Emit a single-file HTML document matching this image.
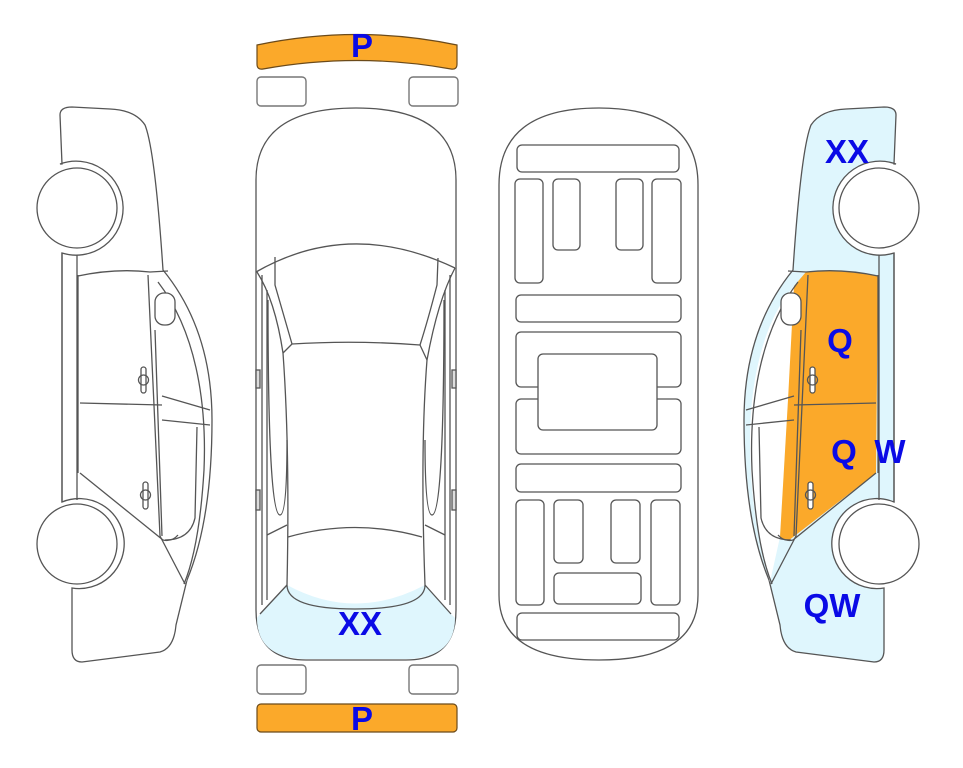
<!DOCTYPE html>
<html><head><style>
html,body{margin:0;padding:0;background:#fff;}
svg{display:block;}
.t{font-family:"Liberation Sans",sans-serif;font-weight:bold;font-size:33px;fill:#0a0ae6;text-anchor:middle;}
</style></head><body>
<svg width="963" height="768" viewBox="0 0 963 768" xmlns="http://www.w3.org/2000/svg">
<defs>
<g id="car" stroke="#555" stroke-width="1.3" fill="none">
  <path fill="var(--body,#fff)" d="M62,164 L60,115 Q60,107 72,107 L110,109 Q135,110 145,125 Q155,150 163,270 Q212,330 212,420 Q212,520 187,580 L176,625 Q174,648 160,652 L82,662 Q72,662 72,650 L72,588 A45,45 0 1 0 62,502 L62,253 A47,47 0 1 0 60,164 Z"/>
  <path fill="#fff" stroke="none" d="M160,284 C192,318 206,380 206,440 C206,500 197,545 186,582 L176,537 L168,400 Z"/>
  <path fill="var(--door,#fff)" stroke="none" d="M78,276 Q115,268 150,272 L162,286 L168,400 L176,537 L168,541 L80,473 Z"/>
  <path d="M62,253 L62,502 M77,255 L77,500"/>
  <path d="M78,275 L78,473 M78,276 Q115,268 150,272 L168,271 M80,403 L162,405 M80,473 L163,540 Q172,542 178,535"/>
  <path d="M148,275 L160,536 L185,584 M155,330 L162,536"/>
  <path d="M158,282 C195,330 207,400 204,470 C201,520 194,560 184,584"/>
  <path d="M162,396 L210,410 M162,420 L210,425"/>
  <path d="M197,427 L195,518 Q190,540 165,540"/>
  <rect x="155" y="293" width="20" height="32" rx="9" fill="#fff"/>
  <rect x="141" y="367" width="5" height="26" rx="2.5" fill="#fff"/>
  <circle cx="143.5" cy="380" r="5"/>
  <rect x="143" y="482" width="5" height="27" rx="2.5" fill="#fff"/>
  <circle cx="145.5" cy="495" r="5"/>
  <circle cx="77" cy="208" r="40" fill="#fff"/>
  <circle cx="77" cy="544" r="40" fill="#fff"/>
</g>
</defs>

<use href="#car"/>
<use href="#car" transform="translate(956,0) scale(-1,1)" style="--body:#dff6fd;--door:#fba92a"/>

<!-- top bumper -->
<path d="M257,45 Q357,24 457,45 L457,64 Q457,70 451,69 Q357,52 263,69 Q257,70 257,64 Z" fill="#fba92a" stroke="#6b4a1a" stroke-width="1.2"/>
<g fill="#fff" stroke="#777" stroke-width="1.4">
<rect x="257" y="77" width="49" height="29" rx="4"/>
<rect x="409" y="77" width="49" height="29" rx="4"/>
<rect x="257" y="665" width="49" height="29" rx="4"/>
<rect x="409" y="665" width="49" height="29" rx="4"/>
</g>
<rect x="257" y="704" width="200" height="28" rx="4" fill="#fba92a" stroke="#6b4a1a" stroke-width="1.2"/>

<!-- top view car -->
<g stroke="#555" stroke-width="1.3" fill="none">
<path fill="#fff" d="M256,180 Q256,108 356,108 Q456,108 456,180 L456,610 Q456,660 406,660 L306,660 Q256,660 256,610 Z"/>
<path fill="#dff6fd" stroke="none" d="M260,614 L287,585 Q355,622 425,585 L451,614 L455,618 Q455,658 406,659 L306,659 Q257,658 257,618 Z"/>
<path d="M260,614 L287,585 M451,614 L425,585"/>
<path d="M256,272 Q350,218 455,268"/>
<path d="M275,257 L275,285 Q285,320 292,344 M257,272 Q275,300 283,353"/>
<path d="M438,258 L437,285 Q428,320 420,345 M455,268 Q438,300 427,360"/>
<path d="M292,344 Q355,340 420,345 M292,344 L283,353 M420,345 L427,360"/>
<path d="M283,353 Q290,450 287,585 M427,360 Q420,450 425,585"/>
<path d="M288,537 Q355,518 422,537"/>
<path d="M287,585 Q287,609 355,609 Q425,609 425,585"/>
<path d="M262,275 L262,605 M267,290 L267,600 M450,275 L450,605 M445,290 L445,600"/>
<path d="M268,300 Q268,515 280,515 Q287,515 287,440 M444,300 Q444,515 432,515 Q425,515 425,440"/>
<path d="M267,535 L287,525 M445,535 L425,525"/>
<rect x="256" y="370" width="4" height="18" fill="#ddd"/>
<rect x="452" y="370" width="4" height="18" fill="#ddd"/>
<rect x="256" y="490" width="4" height="20" fill="#ddd"/>
<rect x="452" y="490" width="4" height="20" fill="#ddd"/>
</g>

<!-- underside -->
<g stroke="#555" stroke-width="1.3" fill="none">
<path d="M499,185 Q499,108 599,108 Q698,108 698,185 L698,595 Q698,660 599,660 Q499,660 499,595 Z"/>
<rect x="517" y="145" width="162" height="27" rx="5"/>
<rect x="515" y="179" width="28" height="104" rx="5"/>
<rect x="553" y="179" width="27" height="71" rx="5"/>
<rect x="616" y="179" width="27" height="71" rx="5"/>
<rect x="652" y="179" width="29" height="104" rx="5"/>
<rect x="516" y="295" width="165" height="27" rx="5"/>
<rect x="516" y="332" width="165" height="55" rx="5"/>
<rect x="516" y="399" width="165" height="55" rx="5"/>
<rect x="538" y="354" width="119" height="76" rx="5" fill="#fff"/>
<rect x="516" y="464" width="165" height="28" rx="5"/>
<rect x="516" y="500" width="28" height="105" rx="5"/>
<rect x="554" y="500" width="29" height="63" rx="5"/>
<rect x="611" y="500" width="29" height="63" rx="5"/>
<rect x="651" y="500" width="29" height="105" rx="5"/>
<rect x="554" y="573" width="87" height="31" rx="5"/>
<rect x="517" y="613" width="162" height="27" rx="5"/>
</g>

<text class="t" x="362" y="57">P</text>
<text class="t" x="362" y="730">P</text>
<text class="t" x="360" y="635">XX</text>
<text class="t" x="847" y="163">XX</text>
<text class="t" x="840" y="352">Q</text>
<text class="t" x="844" y="463">Q</text>
<text class="t" x="890" y="463">W</text>
<text class="t" x="832" y="617">QW</text>
</svg>
</body></html>
